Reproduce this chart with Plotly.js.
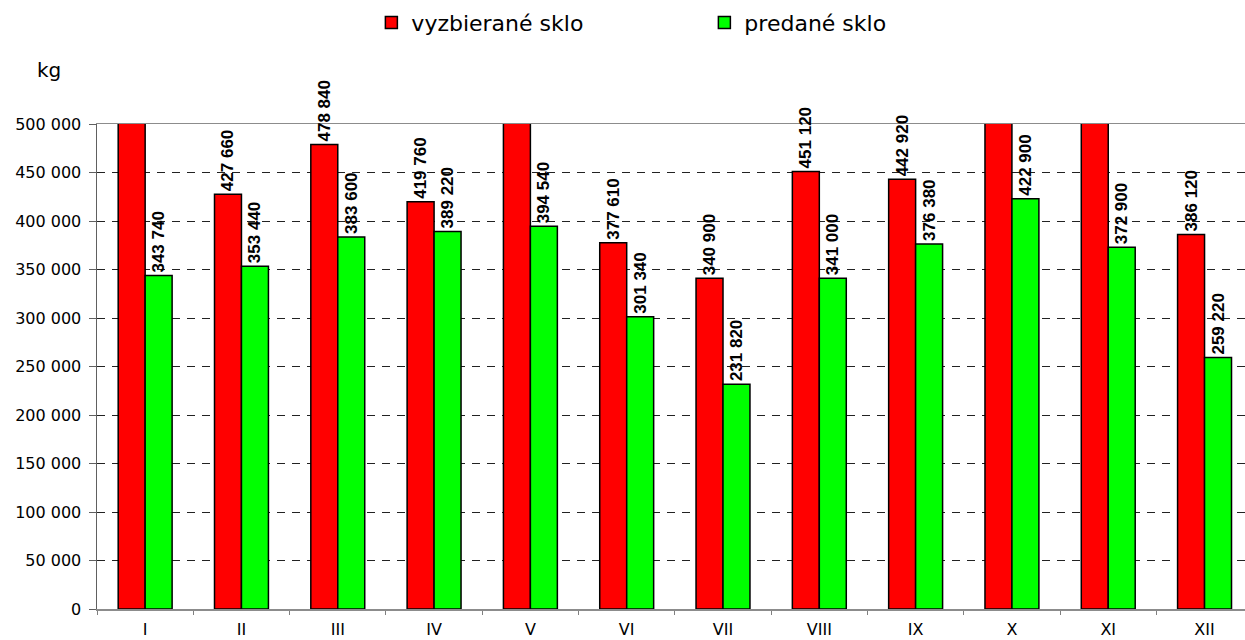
<!DOCTYPE html>
<html><head><meta charset="utf-8">
<script src="https://cdn.plot.ly/plotly-3.0.1.min.js"></script>
<style>html,body{margin:0;padding:0;background:#fff;overflow:hidden}#chart{width:1245px;height:640px}</style>
</head><body><div id="chart"></div>
<script>
// Data (values above 500 000 are cut off in the reference; estimated)
const months = ["I","II","III","IV","V","VI","VII","VIII","IX","X","XI","XII"];
const collected = [520000, 427660, 478840, 419760, 540000, 377610, 340900, 451120, 442920, 530000, 515000, 386120];
const sold = [343740, 353440, 383600, 389220, 394540, 301340, 231820, 341000, 376380, 422900, 372900, 259220];
const seriesNames = ["vyzbierané sklo", "predané sklo"];
const yTickVals = [0, 50000, 100000, 150000, 200000, 250000, 300000, 350000, 400000, 450000, 500000];
const unitLabel = "kg";

const Y_MAX = 500000;
function fmt(v){ return String(v).replace(/\B(?=(\d{3})+(?!\d))/g, " "); }
function labels(arr){ return arr.map(v => v > Y_MAX ? "" : fmt(v)); }

const labelFont = {family: "Liberation Sans, Arial, sans-serif", size: 17, color: "#000", weight: "bold"};

const traces = [
  {type: "bar", name: seriesNames[0], x: months, y: collected, text: labels(collected),
   textposition: "outside", textangle: -90, textfont: labelFont, cliponaxis: false, constraintext: "none",
   marker: {color: "#FF0000", line: {color: "#000", width: 1.5}}, hoverinfo: "x+y"},
  {type: "bar", name: seriesNames[1], x: months, y: sold, text: labels(sold),
   textposition: "outside", textangle: -90, textfont: labelFont, cliponaxis: false, constraintext: "none",
   marker: {color: "#00FF00", line: {color: "#000", width: 1.5}}, hoverinfo: "x+y"}
];

const axisFont = {family: "DejaVu Sans, sans-serif", size: 16, color: "#000"};

const layout = {
  width: 1245, height: 640,
  margin: {l: 97, r: 0, t: 124, b: 31, pad: 0},
  paper_bgcolor: "#fff", plot_bgcolor: "#fff",
  separators: ", ",
  barmode: "group", bargap: 0.44, bargroupgap: 0,
  showlegend: true,
  legend: {orientation: "h", x: 0.239, xanchor: "left", y: 1.252, yanchor: "top",
           font: {family: "DejaVu Sans, sans-serif", size: 22, color: "#000"},
           entrywidth: 288, entrywidthmode: "pixels", traceorder: "normal"},
  xaxis: {type: "category", range: [-0.5, 11.42], tickson: "boundaries",
          ticks: "outside", ticklen: 4, tickcolor: "#808080", tickwidth: 1,
          showline: true, linecolor: "#8c8c8c", linewidth: 1.5, mirror: true, layer: "below traces",
          showgrid: false, zeroline: false, tickfont: axisFont, ticklabelstandoff: 5},
  yaxis: {range: [0, Y_MAX], tickvals: yTickVals, tickformat: ",d",
          ticks: "outside", ticklen: 7, tickcolor: "#606060", tickwidth: 1,
          showline: true, linecolor: "#606060", linewidth: 1.5,
          showgrid: true, gridcolor: "#222", gridwidth: 1, griddash: "8px,7px",
          zeroline: false, tickfont: axisFont, ticklabelstandoff: 4},
  annotations: [{text: unitLabel, xref: "paper", yref: "paper", x: -0.042, y: 1.1113,
                 xanchor: "center", yanchor: "middle", showarrow: false,
                 font: {family: "DejaVu Sans, sans-serif", size: 20, color: "#000"}}]
};

Plotly.newPlot("chart", traces, layout, {displayModeBar: false, staticPlot: true});
</script></body></html>
